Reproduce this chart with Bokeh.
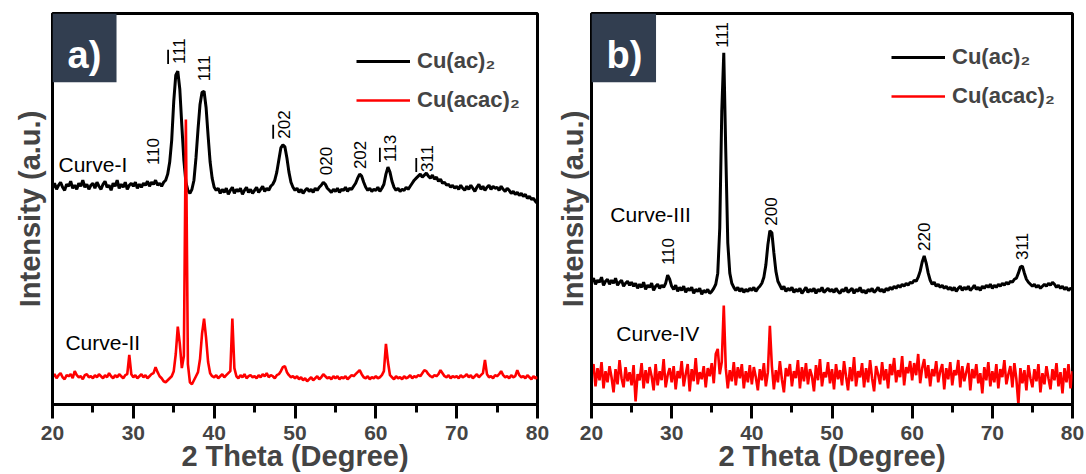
import numpy as np
from bokeh.plotting import figure
from bokeh.models import (Range1d, SingleIntervalTicker, FixedTicker, Legend,
                          LegendItem, Label, BoxAnnotation)
from bokeh.layouts import row
from bokeh.core.properties import value
from bokeh.embed import file_html
from bokeh.resources import INLINE

# ---------------- data (intensity in arbitrary units, offset curves) -------------
two_theta = np.linspace(20, 80, 241)   # 0.25 degree sampling grid

curve_I = [
    214, 219, 213, 217, 220, 215, 212, 218, 216, 221, 214, 217, 213, 219, 216, 222, 215, 218, 213, 217,
    219, 214, 220, 216, 213, 218, 221, 215, 217, 212, 219, 216, 222, 214, 218, 215, 220, 213, 217, 219,
    216, 220, 214, 218, 215, 219, 217, 221, 216, 220, 218, 222, 217, 219, 216, 220, 222, 228, 240, 262,
    300, 326, 330, 312, 276, 242, 220, 212, 209, 213, 222, 244, 272, 297, 309, 310, 294, 266, 240, 224,
    215, 212, 214, 209, 213, 210, 214, 208, 212, 215, 209, 213, 211, 214, 208, 212, 215, 210, 213, 209,
    212, 215, 210, 213, 216, 211, 214, 212, 216, 218, 222, 230, 242, 254, 257, 255, 244, 230, 220, 215,
    212, 214, 210, 213, 209, 212, 214, 211, 213, 210, 214, 212, 215, 217, 220, 218, 214, 212, 210, 213,
    211, 214, 210, 213, 212, 215, 211, 214, 213, 216, 219, 224, 228, 226, 220, 215, 212, 214, 211, 213,
    212, 215, 211, 214, 218, 228, 235, 230, 221, 215, 212, 214, 211, 213, 212, 215, 213, 216, 219, 222,
    224, 226, 228, 225, 227, 229, 226, 224, 227, 223, 225, 221, 223, 219, 220, 217, 218, 215, 217, 214,
    216, 213, 217, 214, 212, 216, 213, 217, 214, 211, 215, 218, 213, 216, 212, 215, 217, 213, 216, 214,
    215, 212, 216, 213, 211, 214, 212, 209, 211, 208, 210, 207, 209, 206, 208, 204, 206, 203, 204, 201,
    199]

curve_II = [
    27, 30, 26, 29, 31, 27, 25, 29, 28, 30, 26, 33, 29, 27, 28, 25, 29, 30, 27, 28,
    26, 29, 27, 30, 28, 26, 29, 27, 31, 28, 26, 29, 27, 30, 28, 26, 29, 30, 49, 30,
    27, 29, 26, 28, 30, 27, 29, 26, 28, 30, 31, 37, 32, 28, 26, 23, 22, 24, 26, 28,
    33, 50, 77, 60, 36, 48, 282, 40, 22, 20, 24, 28, 32, 45, 70, 85, 66, 42, 31, 28,
    27, 29, 26, 28, 30, 27, 29, 31, 33, 85, 36, 28, 26, 29, 27, 30, 26, 28, 29, 27,
    28, 26, 29, 27, 30, 28, 31, 27, 29, 28, 26, 29, 30, 33, 37, 38, 32, 29, 27, 28,
    26, 28, 25, 27, 24, 26, 23, 25, 27, 24, 26, 28, 25, 27, 30, 28, 26, 27, 25, 28,
    26, 28, 25, 27, 26, 28, 25, 27, 29, 28, 30, 32, 34, 30, 27, 26, 28, 25, 27, 26,
    28, 26, 27, 29, 33, 60, 42, 29, 27, 25, 28, 26, 27, 25, 28, 26, 27, 29, 26, 28,
    27, 29, 28, 31, 34, 33, 30, 28, 27, 29, 28, 30, 34, 31, 28, 27, 29, 26, 28, 27,
    28, 26, 29, 27, 28, 30, 27, 29, 26, 28, 30, 27, 29, 31, 44, 30, 27, 28, 26, 29,
    28, 30, 33, 29, 27, 28, 26, 29, 27, 28, 34, 29, 27, 28, 26, 29, 27, 25, 28, 26,
    27]

curve_III = [
    122, 125, 119, 123, 121, 126, 118, 122, 124, 119, 123, 120, 125, 118, 121, 123, 117, 120, 122, 118,
    121, 117, 120, 115, 119, 116, 121, 114, 118, 116, 120, 113, 117, 119, 115, 118, 116, 120, 128, 124,
    117, 114, 118, 112, 116, 113, 117, 111, 115, 113, 116, 110, 114, 112, 115, 109, 113, 111, 114, 110,
    112, 115, 119, 130, 175, 290, 348, 250, 160, 130, 120, 116, 113, 116, 112, 115, 111, 114, 112, 115,
    113, 116, 112, 115, 117, 120, 126, 138, 158, 172, 170, 150, 132, 122, 118, 114, 117, 112, 115, 113,
    116, 111, 114, 112, 115, 110, 113, 116, 111, 114, 112, 115, 110, 114, 112, 116, 111, 113, 115, 112,
    114, 111, 115, 112, 110, 114, 112, 116, 111, 113, 115, 110, 114, 112, 116, 111, 113, 110, 114, 112,
    115, 111, 113, 116, 112, 114, 111, 115, 113, 116, 114, 117, 115, 118, 116, 119, 117, 120, 118, 121,
    120, 123, 122, 126, 132, 141, 147, 140, 130, 123, 119, 121, 117, 119, 116, 118, 115, 117, 114, 116,
    113, 116, 112, 115, 117, 113, 116, 114, 117, 113, 115, 118, 114, 116, 113, 117, 115, 118, 116, 119,
    115, 118, 116, 119, 117, 120, 118, 121, 119, 122, 121, 124, 125, 130, 136, 137, 130, 124, 121, 119,
    117, 119, 116, 118, 115, 117, 119, 117, 120, 118, 121, 119, 116, 118, 115, 117, 114, 116, 113, 115,
    114]

curve_IV = [
    30, 40, 18, 36, 24, 42, 16, 33, 22, 38, 27, 12, 35, 20, 44, 26, 17, 37, 23, 32,
    19, 39, 3, 30, 24, 41, 16, 34, 21, 37, 28, 14, 40, 19, 33, 24, 45, 17, 29, 36,
    22, 38, 15, 33, 26, 43, 18, 30, 40, 13, 35, 23, 46, 20, 32, 25, 38, 17, 36, 28,
    41, 21, 50, 55, 30, 42, 98, 36, 16, 34, 23, 42, 19, 37, 26, 40, 16, 33, 22, 39,
    20, 37, 27, 14, 35, 24, 41, 18, 32, 78, 38, 15, 34, 22, 43, 25, 12, 36, 28, 40,
    18, 33, 26, 44, 16, 37, 23, 41, 20, 35, 28, 13, 39, 24, 45, 18, 32, 27, 42, 21,
    35, 15, 40, 25, 34, 19, 43, 28, 14, 37, 23, 47, 18, 33, 27, 41, 17, 36, 22, 44,
    26, 13, 38, 30, 20, 42, 24, 35, 16, 40, 29, 46, 22, 34, 27, 48, 19, 37, 31, 43,
    24, 41, 29, 50, 21, 36, 45, 26, 39, 18, 35, 28, 43, 22, 33, 40, 15, 36, 25, 42,
    19, 34, 29, 44, 17, 38, 23, 32, 41, 14, 35, 26, 40, 21, 31, 11, 37, 24, 42, 18,
    33, 22, 40, 16, 35, 27, 44, 20, 30, 38, 17, 41, 25, 0, 36, 21, 34, 14, 39, 26,
    17, 35, 23, 40, 12, 31, 20, 38, 26, 15, 35, 24, 41, 18, 32, 11, 36, 22, 40, 16,
    33]

# peak (hkl) annotations: label, 2theta position, intensity where the label starts,
# and whether the first index carries an overbar (negative index)
left_hkl = ["110", "111", "111", "202", "020", "202", "113", "311"]
left_hkl_pos = [32.4, 35.6, 38.75, 48.6, 53.8, 58.1, 61.8, 66.3]
left_hkl_base = [237, 337, 320, 263, 227, 233, 240, 230]
left_hkl_bar = [False, True, False, True, False, False, True, True]

right_hkl = ["110", "111", "200", "220", "311"]
right_hkl_pos = [29.5, 36.3, 42.4, 61.5, 73.65]
right_hkl_base = [138, 353, 177, 152, 143]
right_hkl_bar = [False, False, False, False, False]

legend_labels = ["Cu(ac)\u2082", "Cu(acac)\u2082"]
series_colors = ["black", "#FF0000"]

FONT = "Liberation Sans"
H = 474
DEG_PER_PX = 60 / 485.0


def make_panel(width, bl, br, ylabel_standoff, first, second, hkl, hkl_pos, hkl_base,
               hkl_bar, curve_names, curve_pos, panel_tag, tag_x, box_right, legend_loc):
    p = figure(width=width, height=H, output_backend="svg", toolbar_location=None,
               x_range=Range1d(20, 80), y_range=Range1d(0, 387),
               min_border_left=bl, min_border_right=br, min_border_top=13,
               min_border_bottom=0)
    p.grid.visible = False
    p.outline_line_color = "black"
    p.outline_line_width = 3
    p.outline_line_alpha = 1

    xa = p.xaxis[0]
    xa.ticker = SingleIntervalTicker(interval=10, num_minor_ticks=2)
    xa.axis_label = "2 Theta (Degree)"
    xa.axis_label_text_font = FONT
    xa.axis_label_text_font_style = "bold"
    xa.axis_label_text_font_size = "29px"
    xa.axis_label_standoff = -3
    xa.axis_line_width = 3
    xa.major_tick_line_width = 3
    xa.minor_tick_line_width = 3
    xa.major_tick_out = 14
    xa.major_tick_in = 0
    xa.minor_tick_out = 8
    xa.minor_tick_in = 0
    xa.major_label_text_font = FONT
    xa.major_label_text_font_style = "bold"
    xa.major_label_text_font_size = "21px"
    xa.major_label_standoff = 7

    ya = p.yaxis[0]
    ya.ticker = FixedTicker(ticks=[])
    ya.major_tick_line_color = None
    ya.minor_tick_line_color = None
    ya.major_label_text_font_size = "0px"
    ya.axis_line_width = 3
    ya.axis_label = "Intensity (a.u.)"
    ya.axis_label_text_font = FONT
    ya.axis_label_text_font_style = "bold"
    ya.axis_label_text_font_size = "29px"
    ya.axis_label_standoff = ylabel_standoff

    r1 = p.line(two_theta, first, line_color=series_colors[0], line_width=3)
    r2 = p.line(two_theta, second, line_color=series_colors[1], line_width=2.6)

    p.text(x=hkl_pos, y=hkl_base, text=hkl, angle=np.pi / 2,
           text_align="left", text_baseline="middle",
           text_font=value(FONT), text_font_size=value("17px"), text_color="black")

    # overbars of negative Miller indices (drawn beside the first, rotated digit)
    bx = [x - 10.5 * DEG_PER_PX for x, b in zip(hkl_pos, hkl_bar) if b]
    by0 = [y for y, b in zip(hkl_base, hkl_bar) if b]
    by1 = [y + 14 for y, b in zip(hkl_base, hkl_bar) if b]
    if bx:
        p.segment(x0=bx, y0=by0, x1=bx, y1=by1, line_color="black", line_width=1.8)

    for name, (cx, cy) in zip(curve_names, curve_pos):
        p.add_layout(Label(x=cx, y=cy, text=name, text_font=FONT,
                           text_font_size="21px", text_baseline="middle",
                           text_align="left", text_color="black"))

    p.add_layout(BoxAnnotation(left=20, right=box_right, bottom=319, top=387,
                               fill_color="#323E50", fill_alpha=1, line_color=None))
    p.add_layout(Label(x=tag_x, y=346, text=panel_tag, text_color="white",
                       text_font=FONT, text_font_style="bold", text_font_size="38px",
                       text_align="center", text_baseline="middle"))

    leg = Legend(items=[LegendItem(label=legend_labels[0], renderers=[r1]),
                        LegendItem(label=legend_labels[1], renderers=[r2])],
                 location=legend_loc, glyph_width=54, glyph_height=20,
                 label_standoff=7, spacing=13, padding=0, margin=0,
                 border_line_color=None, background_fill_alpha=0,
                 label_text_font=FONT, label_text_font_style="bold",
                 label_text_font_size="22px")
    p.add_layout(leg)
    return p


pa = make_panel(553, 52, 16, 7, curve_I, curve_II, left_hkl, left_hkl_pos, left_hkl_base,
                left_hkl_bar, ["Curve-I", "Curve-II"], [(20.74, 238), (21.6, 61)],
                "a)", 23.96, 27.92, (304, 291))
pb = make_panel(533, 35, 14, 3, curve_III, curve_IV, right_hkl, right_hkl_pos, right_hkl_base,
                right_hkl_bar, ["Curve-III", "Curve-IV"], [(22.35, 188), (23.1, 70)],
                "b)", 24.1, 28.05, (300, 295))

layout = row(pa, pb)
open("out.html", "w").write(file_html(layout, INLINE))
